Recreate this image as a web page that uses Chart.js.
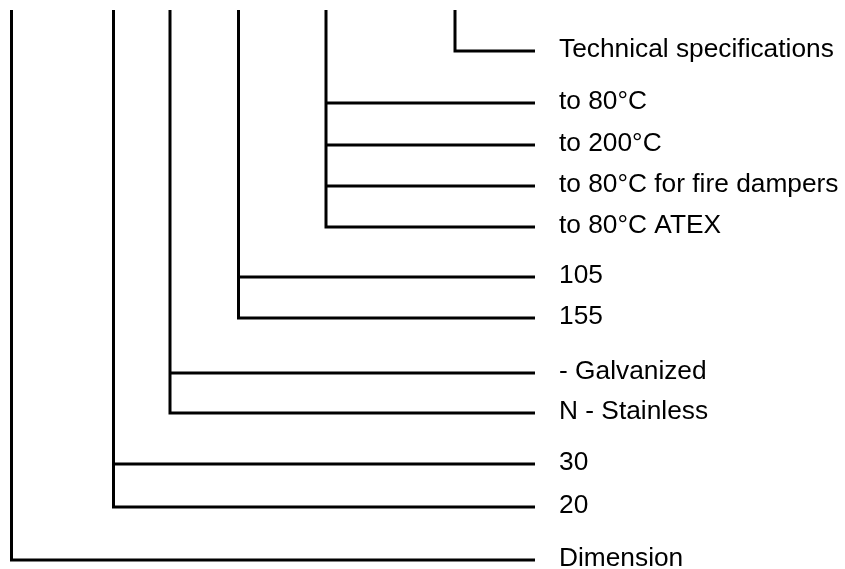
<!DOCTYPE html>
<html>
<head>
<meta charset="utf-8">
<script src="https://cdn.jsdelivr.net/npm/chart.js@4.4.1/dist/chart.umd.min.js"></script>
<style>
  html, body { margin: 0; padding: 0; background: #ffffff; }
  #wrap { width: 845px; height: 569px; }
</style>
</head>
<body>
<div id="wrap"><canvas id="c" width="845" height="569"></canvas></div>
<script>
// Tree groups (outermost to innermost): branch column (x in data units) and the rows of their leaves
const groupNames   = ["Dimension", "Thickness", "Material", "Profile", "Gasket", "Specs"];
const branchColumn = [11.5, 113.5, 170, 238.5, 326, 455];
const leafLabels = [
  ["Dimension"],
  ["30", "20"],
  ["- Galvanized", "N - Stainless"],
  ["105", "155"],
  ["to 80°C", "to 200°C", "to 80°C for fire dampers", "to 80°C ATEX"],
  ["Technical specifications"]
];
const leafRows = [
  [560],
  [464, 507],
  [373, 413],
  [277, 318],
  [103, 145, 186, 227],
  [51]
];
const trunkTop = 10;
const leafEnd = 535;
const labelX = 559;

const lineColor = '#000000';
const datasets = [];
branchColumn.forEach((bx, g) => {
  const rows = leafRows[g];
  const last = rows[rows.length - 1];
  // trunk + last leaf as one L-shaped line
  datasets.push({
    data: [{x: bx, y: trunkTop}, {x: bx, y: last}, {x: leafEnd, y: last}],
    showLine: true, borderColor: lineColor, borderWidth: 3,
    pointRadius: 0, borderJoinStyle: 'miter', borderCapStyle: 'butt', tension: 0
  });
  rows.slice(0, -1).forEach(r => {
    datasets.push({
      data: [{x: bx, y: r}, {x: leafEnd, y: r}],
      showLine: true, borderColor: lineColor, borderWidth: 3,
      pointRadius: 0, borderCapStyle: 'butt', tension: 0
    });
  });
});

const labelPlugin = {
  id: 'leafLabels',
  afterDatasetsDraw(chart) {
    const ctx = chart.ctx;
    const xs = chart.scales.x, ys = chart.scales.y;
    ctx.save();
    ctx.fillStyle = '#000000';
    ctx.font = '26.3px "Liberation Sans", Arial, sans-serif';
    ctx.textBaseline = 'alphabetic';
    ctx.textAlign = 'left';
    leafLabels.forEach((labels, g) => {
      labels.forEach((t, i) => {
        ctx.fillText(t, xs.getPixelForValue(labelX), ys.getPixelForValue(leafRows[g][i]) + 6);
      });
    });
    ctx.restore();
  }
};

new Chart(document.getElementById('c'), {
  type: 'scatter',
  data: { datasets },
  options: {
    responsive: false,
    animation: false,
    layout: { padding: 0 },
    plugins: { legend: { display: false }, tooltip: { enabled: false }, title: { display: false } },
    scales: {
      x: { type: 'linear', min: 0, max: 845, display: false },
      y: { type: 'linear', min: 0, max: 569, reverse: true, display: false }
    }
  },
  plugins: [labelPlugin]
});
</script>
</body>
</html>
